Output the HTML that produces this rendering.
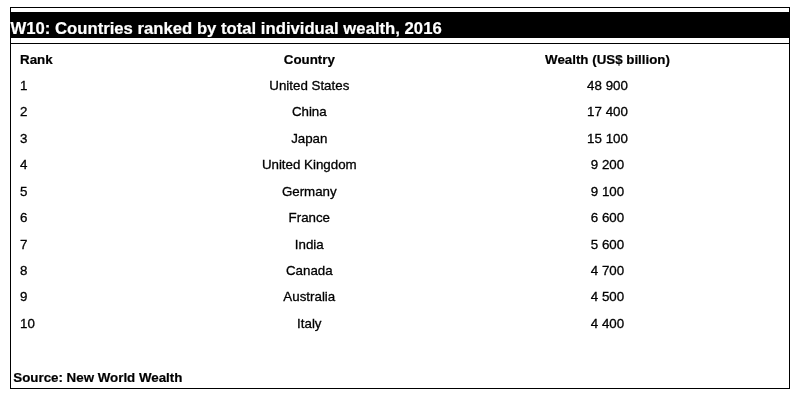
<!DOCTYPE html>
<html><head><meta charset="utf-8">
<style>
html,body{margin:0;padding:0;background:#fff;}
body{width:798px;height:400px;position:relative;overflow:hidden;font-family:"Liberation Sans",Arial,sans-serif;color:#000;}
.box{position:absolute;left:10px;top:7px;width:780px;height:382px;border:1px solid #000;box-sizing:border-box;}
.bar{position:absolute;left:11px;top:12px;width:778px;height:25.5px;background:#000;}
.title{-webkit-text-stroke:0.2px #fff;position:absolute;left:10.5px;top:19px;font-size:16.7px;font-weight:bold;color:#fff;line-height:20px;white-space:nowrap;}
.line{position:absolute;left:11px;top:43px;width:778px;height:1px;background:#000;}
.t{-webkit-text-stroke:0.3px #000;position:absolute;font-size:13.33px;line-height:16px;white-space:nowrap;}
.b{font-weight:bold;-webkit-text-stroke:0.2px #000;}
.c{width:200px;text-align:center;left:209.3px;}
.w{width:200px;text-align:center;left:507.5px;}
.r{left:20px;}
</style></head><body>
<div class="box"></div>
<div class="bar"></div>
<div class="title">W10: Countries ranked by total individual wealth, 2016</div>
<div class="line"></div>
<div class="t b r" style="top:52.00px">Rank</div><div class="t b c" style="top:52.00px">Country</div><div class="t b w" style="top:52.00px">Wealth (US$ billion)</div>
<div class="t r" style="top:78.00px">1</div><div class="t c" style="top:78.00px">United States</div><div class="t w" style="top:78.00px">48 900</div>
<div class="t r" style="top:104.00px">2</div><div class="t c" style="top:104.00px">China</div><div class="t w" style="top:104.00px">17 400</div>
<div class="t r" style="top:131.00px">3</div><div class="t c" style="top:131.00px">Japan</div><div class="t w" style="top:131.00px">15 100</div>
<div class="t r" style="top:157.00px">4</div><div class="t c" style="top:157.00px">United Kingdom</div><div class="t w" style="top:157.00px">9 200</div>
<div class="t r" style="top:184.00px">5</div><div class="t c" style="top:184.00px">Germany</div><div class="t w" style="top:184.00px">9 100</div>
<div class="t r" style="top:210.00px">6</div><div class="t c" style="top:210.00px">France</div><div class="t w" style="top:210.00px">6 600</div>
<div class="t r" style="top:237.00px">7</div><div class="t c" style="top:237.00px">India</div><div class="t w" style="top:237.00px">5 600</div>
<div class="t r" style="top:263.00px">8</div><div class="t c" style="top:263.00px">Canada</div><div class="t w" style="top:263.00px">4 700</div>
<div class="t r" style="top:289.00px">9</div><div class="t c" style="top:289.00px">Australia</div><div class="t w" style="top:289.00px">4 500</div>
<div class="t r" style="top:316.00px">10</div><div class="t c" style="top:316.00px">Italy</div><div class="t w" style="top:316.00px">4 400</div>
<div class="t b" style="left:13.3px;top:370px">Source: New World Wealth</div>
</body></html>
